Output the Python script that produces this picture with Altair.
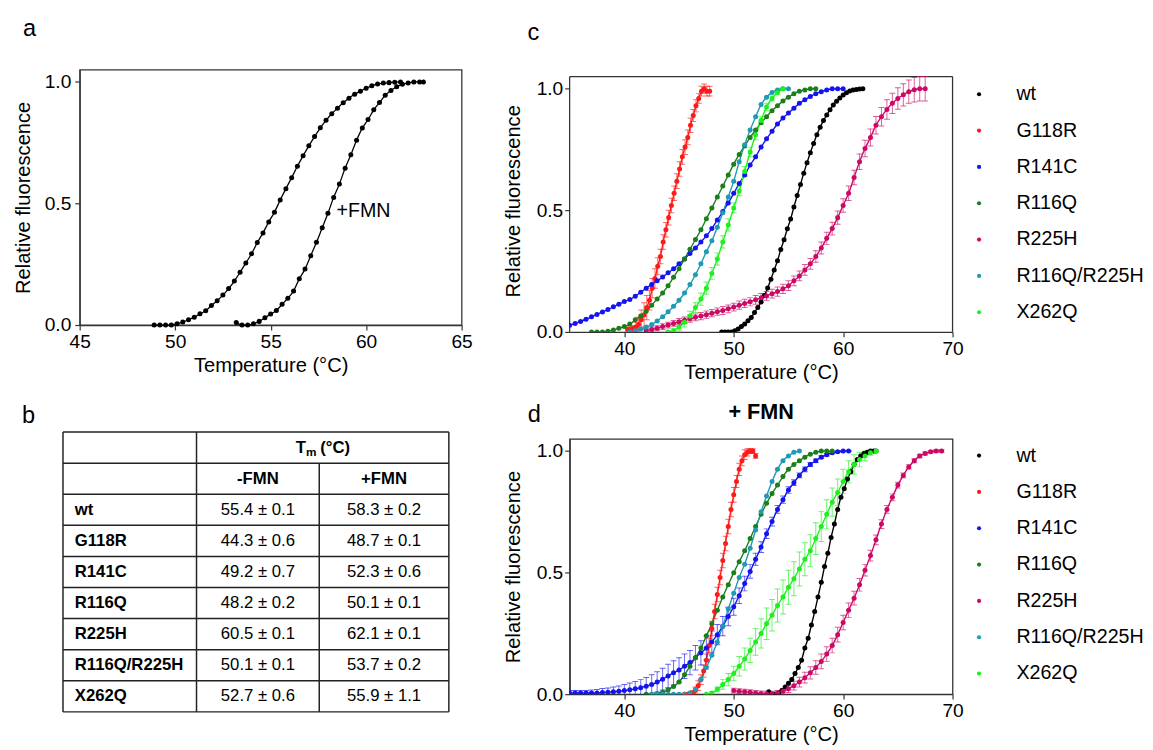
import altair as alt
import pandas as pd

FONT = "Liberation Sans"

# ---------------- panel a : wild type, without / with FMN ----------------
A_MINUS_T = [48.9, 49.2, 49.5, 49.8, 50.1, 50.4, 50.7, 51.0, 51.3, 51.6,
             51.9, 52.2, 52.5, 52.8, 53.1, 53.4, 53.7, 54.0, 54.3, 54.6,
             54.9, 55.2, 55.5, 55.8, 56.1, 56.4, 56.7, 57.0, 57.3, 57.6,
             57.9, 58.2, 58.5, 58.8, 59.1, 59.4, 59.7, 60.0, 60.3, 60.6,
             60.9, 61.2, 61.5, 61.8]
A_MINUS_F = [0.0, 0.0, 0.0, 0.0, 0.005, 0.012, 0.022, 0.032, 0.046, 0.059,
             0.08, 0.10, 0.123, 0.15, 0.181, 0.217, 0.255, 0.293, 0.339, 0.379,
             0.424, 0.464, 0.514, 0.561, 0.606, 0.653, 0.696, 0.737, 0.775, 0.811,
             0.842, 0.869, 0.892, 0.914, 0.933, 0.949, 0.962, 0.974, 0.984, 0.991,
             0.995, 0.997, 0.999, 1.0]
A_PLUS_T = [53.2, 53.5, 53.8, 54.1, 54.4, 54.7, 55.0, 55.3, 55.6, 55.9,
            56.2, 56.5, 56.8, 57.1, 57.4, 57.7, 58.0, 58.3, 58.6, 58.9,
            59.2, 59.5, 59.8, 60.1, 60.4, 60.7, 61.0, 61.3, 61.6, 61.9,
            62.2, 62.5, 62.8, 63.0]
A_PLUS_F = [0.01, 0.0, 0.0, 0.005, 0.015, 0.03, 0.045, 0.06, 0.085, 0.11,
            0.14, 0.19, 0.23, 0.285, 0.34, 0.40, 0.46, 0.525, 0.58, 0.645,
            0.70, 0.76, 0.81, 0.845, 0.885, 0.915, 0.945, 0.965, 0.98, 0.99,
            0.995, 1.0, 1.0, 1.0]
A_LABEL = ["+FMN"]
A_LABEL_T = [58.45]
A_LABEL_F = [0.47]

# ---------------- panel b : table ----------------
B_MUTANTS = ["wt", "G118R", "R141C", "R116Q", "R225H", "R116Q/R225H", "X262Q"]
B_TM_MINUS = ["55.4 ± 0.1", "44.3 ± 0.6", "49.2 ± 0.7", "48.2 ± 0.2",
              "60.5 ± 0.1", "50.1 ± 0.1", "52.7 ± 0.6"]
B_TM_PLUS = ["58.3 ± 0.2", "48.7 ± 0.1", "52.3 ± 0.6", "50.1 ± 0.1",
             "62.1 ± 0.1", "53.7 ± 0.2", "55.9 ± 1.1"]
B_HEAD_COLS = ["-FMN", "+FMN"]

# ---------------- panels c / d : series ----------------
SERIES = ["wt", "G118R", "R141C", "R116Q", "R225H", "R116Q/R225H", "X262Q"]
COLORS = ["#000000", "#ff1a1a", "#1414f0", "#1a7f1a", "#cc0a66", "#1f9ab5", "#1ef01e"]

# panel c (no FMN)
C_G118R_T = [40.3, 40.55, 40.8, 41.05, 41.3, 41.55, 41.8, 42.05, 42.3, 42.55,
             42.8, 43.05, 43.3, 43.55, 43.8, 44.05, 44.3, 44.55, 44.8, 45.05,
             45.3, 45.55, 45.8, 46.05, 46.3, 46.55, 46.8, 47.05, 47.3, 47.55, 47.8]
C_G118R_F = [0.01, 0.01, 0.015, 0.02, 0.03, 0.05, 0.07, 0.10, 0.13, 0.18,
             0.22, 0.27, 0.31, 0.37, 0.42, 0.47, 0.52, 0.57, 0.62, 0.67,
             0.72, 0.76, 0.80, 0.85, 0.89, 0.93, 0.96, 0.99, 1.0, 0.99, 0.99]
C_G118R_E = [0.01, 0.01, 0.01, 0.02, 0.03, 0.04, 0.05, 0.05, 0.04, 0.04,
             0.04, 0.035, 0.03, 0.03, 0.03, 0.03, 0.03, 0.03, 0.03, 0.03,
             0.03, 0.03, 0.03, 0.03, 0.025, 0.025, 0.02, 0.02, 0.02, 0.02, 0.02]

C_R141C_T = [35.0, 35.5, 36.0, 36.5, 37.0, 37.5, 38.0, 38.5, 39.0, 39.5,
             40.0, 40.5, 41.0, 41.5, 42.0, 42.5, 43.0, 43.5, 44.0, 44.5,
             45.0, 45.5, 46.0, 46.5, 47.0, 47.5, 48.0, 48.5, 49.0, 49.5,
             50.0, 50.5, 51.0, 51.5, 52.0, 52.5, 53.0, 53.5, 54.0, 54.5,
             55.0, 55.5, 56.0, 56.5, 57.0, 57.5, 58.0, 58.5, 59.0, 59.5, 60.0]
C_R141C_F = [0.027, 0.035, 0.043, 0.052, 0.062, 0.072, 0.082, 0.092, 0.103, 0.114,
             0.125, 0.133, 0.147, 0.163, 0.18, 0.195, 0.21, 0.226, 0.243, 0.26,
             0.28, 0.30, 0.322, 0.345, 0.37, 0.395, 0.425, 0.46, 0.495, 0.53,
             0.57, 0.61, 0.645, 0.686, 0.72, 0.76, 0.794, 0.825, 0.855, 0.88,
             0.90, 0.92, 0.94, 0.955, 0.968, 0.98, 0.988, 0.995, 1.0, 1.0, 1.0]

C_R116Q_T = [37.0, 37.5, 38.0, 38.5, 39.0, 39.5, 40.0, 40.5, 41.0, 41.5,
             42.0, 42.5, 43.0, 43.5, 44.0, 44.5, 45.0, 45.5, 46.0, 46.5,
             47.0, 47.5, 48.0, 48.5, 49.0, 49.5, 50.0, 50.5, 51.0, 51.5,
             52.0, 52.5, 53.0, 53.5, 54.0, 54.5, 55.0, 55.5, 56.0, 56.5,
             57.0, 57.5]
C_R116Q_F = [0.0, 0.0, 0.0, 0.003, 0.008, 0.015, 0.022, 0.032, 0.05, 0.065,
             0.085, 0.11, 0.135, 0.16, 0.19, 0.225, 0.26, 0.30, 0.34, 0.38,
             0.42, 0.465, 0.51, 0.555, 0.60, 0.645, 0.69, 0.73, 0.765, 0.80,
             0.83, 0.86, 0.885, 0.91, 0.93, 0.95, 0.965, 0.98, 0.99, 0.995,
             1.0, 1.0]

C_R225H_T = [42.0, 42.5, 43.0, 43.5, 44.0, 44.5, 45.0, 45.5, 46.0, 46.5,
             47.0, 47.5, 48.0, 48.5, 49.0, 49.5, 50.0, 50.5, 51.0, 51.5,
             52.0, 52.5, 53.0, 53.5, 54.0, 54.5, 55.0, 55.5, 56.0, 56.5,
             57.0, 57.5, 58.0, 58.5, 59.0, 59.5, 60.0, 60.5, 61.0, 61.5,
             62.0, 62.5, 63.0, 63.5, 64.0, 64.5, 65.0, 65.5, 66.0, 66.5,
             67.0, 67.5]
C_R225H_F = [0.005, 0.01, 0.015, 0.022, 0.028, 0.035, 0.042, 0.048, 0.054, 0.06,
             0.065, 0.071, 0.077, 0.083, 0.088, 0.095, 0.102, 0.11, 0.117, 0.124,
             0.132, 0.14, 0.148, 0.157, 0.166, 0.177, 0.19, 0.21, 0.23, 0.255,
             0.28, 0.31, 0.345, 0.385, 0.425, 0.47, 0.52, 0.57, 0.635, 0.70,
             0.754, 0.80, 0.85, 0.885, 0.915, 0.94, 0.96, 0.975, 0.988, 0.996,
             1.0, 1.0]
C_R225H_E = [0.01, 0.01, 0.01, 0.012, 0.012, 0.012, 0.013, 0.013, 0.014, 0.014,
             0.015, 0.015, 0.015, 0.015, 0.016, 0.016, 0.016, 0.017, 0.017, 0.017,
             0.018, 0.018, 0.018, 0.018, 0.019, 0.019, 0.02, 0.02, 0.02, 0.022,
             0.022, 0.024, 0.025, 0.025, 0.026, 0.027, 0.028, 0.03, 0.03, 0.032,
             0.034, 0.035, 0.036, 0.038, 0.04, 0.042, 0.044, 0.046, 0.048, 0.05,
             0.05, 0.05]

C_DBL_T = [40.5, 41.0, 41.5, 42.0, 42.5, 43.0, 43.5, 44.0, 44.5, 45.0,
           45.5, 46.0, 46.5, 47.0, 47.5, 48.0, 48.5, 49.0, 49.5, 50.0,
           50.5, 51.0, 51.5, 52.0, 52.5, 53.0, 53.5, 54.0, 54.5, 55.0]
C_DBL_F = [0.0, 0.005, 0.012, 0.02, 0.03, 0.045, 0.062, 0.083, 0.105, 0.13,
           0.16, 0.195, 0.235, 0.28, 0.33, 0.375, 0.43, 0.49, 0.555, 0.62,
           0.70, 0.77, 0.83, 0.885, 0.935, 0.965, 0.985, 0.995, 1.0, 1.0]

C_X262Q_T = [44.0, 44.5, 45.0, 45.5, 46.0, 46.5, 47.0, 47.5, 48.0, 48.5,
             49.0, 49.5, 50.0, 50.5, 51.0, 51.5, 52.0, 52.5, 53.0, 53.5,
             54.0, 54.5]
C_X262Q_F = [0.0, 0.005, 0.02, 0.04, 0.065, 0.10, 0.135, 0.18, 0.24, 0.30,
             0.37, 0.44, 0.51, 0.58, 0.66, 0.74, 0.81, 0.87, 0.925, 0.96,
             0.985, 1.0]
C_X262Q_E = [0.005, 0.01, 0.015, 0.02, 0.02, 0.02, 0.025, 0.025, 0.025, 0.025,
             0.025, 0.025, 0.02, 0.02, 0.02, 0.02, 0.02, 0.015, 0.015, 0.01,
             0.01, 0.005]

# panel d (+ FMN)
D_G118R_T = [45.5, 45.75, 46.0, 46.25, 46.5, 46.75, 47.0, 47.25, 47.5, 47.75,
             48.0, 48.25, 48.5, 48.75, 49.0, 49.25, 49.5, 49.75, 50.0, 50.25,
             50.5, 50.75, 51.0, 51.25, 51.5, 51.75, 52.0]
D_G118R_F = [0.0, 0.0, 0.0, 0.005, 0.015, 0.035, 0.06, 0.095, 0.14, 0.20,
             0.27, 0.34, 0.41, 0.48, 0.55, 0.62, 0.69, 0.76, 0.82, 0.875,
             0.925, 0.96, 0.985, 0.995, 1.0, 1.0, 0.98]
D_G118R_E = [0.0, 0.0, 0.005, 0.01, 0.015, 0.02, 0.02, 0.025, 0.025, 0.03,
             0.03, 0.03, 0.03, 0.03, 0.03, 0.03, 0.03, 0.03, 0.03, 0.025,
             0.025, 0.02, 0.02, 0.015, 0.01, 0.01, 0.01]

D_R141C_T = [35.0, 35.5, 36.0, 36.5, 37.0, 37.5, 38.0, 38.5, 39.0, 39.5,
             40.0, 40.5, 41.0, 41.5, 42.0, 42.5, 43.0, 43.5, 44.0, 44.5,
             45.0, 45.5, 46.0, 46.5, 47.0, 47.5, 48.0, 48.5, 49.0, 49.5,
             50.0, 50.5, 51.0, 51.5, 52.0, 52.5, 53.0, 53.5, 54.0, 54.5,
             55.0, 55.5, 56.0, 56.5, 57.0, 57.5, 58.0, 58.5, 59.0, 59.5,
             60.0, 60.5]
D_R141C_F = [0.005, 0.005, 0.005, 0.005, 0.005, 0.005, 0.007, 0.008, 0.01, 0.012,
             0.015, 0.018, 0.022, 0.027, 0.033, 0.04, 0.05, 0.062, 0.075, 0.088,
             0.10, 0.115, 0.13, 0.15, 0.17, 0.19, 0.215, 0.245, 0.28, 0.32,
             0.36, 0.405, 0.455, 0.505, 0.555, 0.605, 0.66, 0.71, 0.76, 0.80,
             0.84, 0.87, 0.90, 0.925, 0.945, 0.96, 0.975, 0.985, 0.993, 0.997,
             1.0, 1.0]
D_R141C_E = [0.01, 0.01, 0.01, 0.01, 0.012, 0.014, 0.016, 0.018, 0.02, 0.022,
             0.025, 0.028, 0.03, 0.033, 0.036, 0.04, 0.042, 0.045, 0.048, 0.05,
             0.05, 0.05, 0.05, 0.05, 0.05, 0.048, 0.045, 0.042, 0.04, 0.038,
             0.035, 0.032, 0.03, 0.028, 0.025, 0.022, 0.02, 0.018, 0.016, 0.015,
             0.013, 0.012, 0.01, 0.01, 0.008, 0.007, 0.006, 0.005, 0.004, 0.003,
             0.002, 0.002]

D_R116Q_T = [42.0, 42.5, 43.0, 43.5, 44.0, 44.5, 45.0, 45.5, 46.0, 46.5,
             47.0, 47.5, 48.0, 48.5, 49.0, 49.5, 50.0, 50.5, 51.0, 51.5,
             52.0, 52.5, 53.0, 53.5, 54.0, 54.5, 55.0, 55.5, 56.0, 56.5,
             57.0, 57.5, 58.0, 58.5, 59.0]
D_R116Q_F = [0.0, 0.0, 0.003, 0.008, 0.018, 0.032, 0.05, 0.08, 0.115, 0.15,
             0.19, 0.24, 0.29, 0.345, 0.40, 0.45, 0.50, 0.545, 0.59, 0.64,
             0.69, 0.74, 0.785, 0.825, 0.86, 0.895, 0.925, 0.945, 0.96, 0.975,
             0.987, 0.995, 1.0, 1.0, 1.0]

D_R225H_T = [50.0, 50.5, 51.0, 51.5, 52.0, 52.5, 53.0, 53.5, 54.0, 54.5,
             55.0, 55.5, 56.0, 56.5, 57.0, 57.5, 58.0, 58.5, 59.0, 59.5,
             60.0, 60.5, 61.0, 61.5, 62.0, 62.5, 63.0, 63.5, 64.0, 64.5,
             65.0, 65.5, 66.0, 66.5, 67.0, 67.5, 68.0, 68.5, 69.0]
D_R225H_F = [0.015, 0.012, 0.01, 0.008, 0.005, 0.003, 0.002, 0.002, 0.005, 0.012,
             0.022, 0.035, 0.05, 0.068, 0.088, 0.11, 0.135, 0.165, 0.20, 0.245,
             0.295, 0.345, 0.395, 0.45, 0.51, 0.57, 0.635, 0.70, 0.76, 0.81,
             0.86, 0.90, 0.935, 0.96, 0.98, 0.99, 0.997, 1.0, 1.0]
D_R225H_E = [0.01, 0.01, 0.01, 0.01, 0.01, 0.01, 0.01, 0.01, 0.01, 0.012,
             0.015, 0.018, 0.02, 0.022, 0.025, 0.028, 0.03, 0.03, 0.03, 0.03,
             0.03, 0.03, 0.028, 0.026, 0.024, 0.022, 0.02, 0.018, 0.016, 0.014,
             0.012, 0.01, 0.009, 0.008, 0.007, 0.006, 0.005, 0.005, 0.005]

D_DBL_T = [42.5, 43.0, 43.5, 44.0, 44.5, 45.0, 45.5, 46.0, 46.5, 47.0,
           47.5, 48.0, 48.5, 49.0, 49.5, 50.0, 50.5, 51.0, 51.5, 52.0,
           52.5, 53.0, 53.5, 54.0, 54.5, 55.0, 55.5, 56.0]
D_DBL_F = [0.0, 0.0, 0.0, 0.0, 0.0, 0.0, 0.0, 0.005, 0.02, 0.06,
           0.11, 0.16, 0.215, 0.28, 0.35, 0.415, 0.48, 0.535, 0.60, 0.675,
           0.75, 0.815, 0.875, 0.925, 0.96, 0.98, 0.995, 1.0]

D_X262Q_T = [47.5, 48.0, 48.5, 49.0, 49.5, 50.0, 50.5, 51.0, 51.5, 52.0,
             52.5, 53.0, 53.5, 54.0, 54.5, 55.0, 55.5, 56.0, 56.5, 57.0,
             57.5, 58.0, 58.5, 59.0, 59.5, 60.0, 60.5, 61.0, 61.5, 62.0,
             62.5, 63.0]
D_X262Q_F = [0.0, 0.005, 0.02, 0.04, 0.06, 0.085, 0.115, 0.145, 0.18, 0.215,
             0.25, 0.29, 0.325, 0.365, 0.40, 0.44, 0.475, 0.515, 0.555, 0.59,
             0.64, 0.69, 0.74, 0.79, 0.83, 0.875, 0.915, 0.945, 0.965, 0.98,
             0.993, 1.0]
D_X262Q_E = [0.0, 0.005, 0.01, 0.02, 0.025, 0.03, 0.04, 0.045, 0.05, 0.055,
             0.06, 0.065, 0.065, 0.068, 0.07, 0.07, 0.07, 0.07, 0.068, 0.066,
             0.065, 0.062, 0.06, 0.058, 0.055, 0.05, 0.045, 0.04, 0.03, 0.02,
             0.01, 0.005]

Y_TOP = 1.05  # top of the plotted frame (data units)


# ---------------- helpers ----------------
def build(entries):
    rows = []
    for name, t, f in entries:
        assert len(t) == len(f), name
        rows += [{"series": name, "t": a, "f": b} for a, b in zip(t, f)]
    return pd.DataFrame(rows)


def build_err(entries):
    rows = []
    for name, t, f, e in entries:
        assert len(t) == len(f) == len(e), name
        rows += [{"series": name, "t": a, "lo": b - c, "hi": b + c}
                 for a, b, c in zip(t, f, e)]
    return pd.DataFrame(rows)


def letter(txt, dx, dy, size=24, weight="normal"):
    return alt.Chart(pd.DataFrame({"label": [txt]})).mark_text(
        font=FONT, fontSize=size, fontWeight=weight, align="center",
        baseline="middle", color="black"
    ).encode(text="label:N", x=alt.value(dx), y=alt.value(dy))


FRAME = alt.ViewBackground(stroke="#333333", strokeWidth=1.3)
NOFRAME = alt.ViewBackground(stroke="transparent")


def xenc(xdom, xvals, field="t:Q"):
    return alt.X(field, scale=alt.Scale(domain=xdom, nice=False, zero=False),
                 axis=alt.Axis(values=xvals, format="d", title="Temperature (°C)",
                               labelPadding=3, titlePadding=5, labelFlush=False))


def yenc(ymax, lab_pad, ttl_pad, field="f:Q", domain=True):
    return alt.Y(field, scale=alt.Scale(domain=[0, ymax], nice=False, zero=False),
                 axis=alt.Axis(values=[0, 0.5, 1.0], format=".1f",
                               title="Relative fluorescence", domain=domain,
                               labelPadding=lab_pad, titlePadding=ttl_pad,
                               labelFlush=False))


# ---------------- panel a ----------------
a_df = build([("-FMN", A_MINUS_T, A_MINUS_F), ("+FMN", A_PLUS_T, A_PLUS_F)])
ax = xenc([45, 65], [45, 50, 55, 60, 65])
ay = yenc(Y_TOP, 4, 11)
a_lines = alt.Chart(a_df).mark_line(color="black", strokeWidth=1.3,
                                    interpolate="monotone").encode(ax, ay, detail="series:N")
a_pts = alt.Chart(a_df).mark_circle(color="black", size=26, opacity=1).encode(ax, ay)
a_lab = alt.Chart(pd.DataFrame({"t": A_LABEL_T, "f": A_LABEL_F, "label": A_LABEL})).mark_text(
    font=FONT, fontSize=20, align="left", baseline="middle", color="black"
).encode(ax, ay, text="label:N")
panel_a = alt.layer(a_lines, a_pts, a_lab, letter("a", -51, -41)).properties(
    width=389, height=260, view=FRAME)

# ---------------- panel b (table) ----------------
TBL_W = 393
TBL_SHIFT = 17          # table starts this many px left of panel a's plot edge
COL_EDGES = [0, 136, 261, 393]
COL_TOP_ROW = [0, 0, 1, 0]
xs = alt.Scale(domain=[TBL_SHIFT, TBL_W], nice=False, zero=False)
ys = alt.Scale(domain=[0, 9], nice=False, zero=False, reverse=True)
h_df = pd.DataFrame({"x0": [0] * 10, "x1": [TBL_W] * 10, "y0": list(range(10))})
v_df = pd.DataFrame({"x0": COL_EDGES, "y0": COL_TOP_ROW, "y1": [9, 9, 9, 9]})
h_rules = alt.Chart(h_df).mark_rule(color="#222222", strokeWidth=1.5).encode(
    x=alt.X("x0:Q", scale=xs, axis=None), x2="x1:Q", y=alt.Y("y0:Q", scale=ys, axis=None))
v_rules = alt.Chart(v_df).mark_rule(color="#222222", strokeWidth=1.5).encode(
    x=alt.X("x0:Q", scale=xs, axis=None), y=alt.Y("y0:Q", scale=ys, axis=None), y2="y1:Q")

row_y = [i + 2.5 for i in range(len(B_MUTANTS))]
lab_df = pd.DataFrame({"label": B_MUTANTS, "x": [12] * 7, "y": row_y})
minus_df = pd.DataFrame({"label": B_TM_MINUS, "x": [198.5] * 7, "y": row_y})
plus_df = pd.DataFrame({"label": B_TM_PLUS, "x": [327] * 7, "y": row_y})
head_df = pd.DataFrame({"label": B_HEAD_COLS, "x": [198.5, 327], "y": [1.5, 1.5]})


def ttext(df, align="center", weight="normal", size=17, dy=0):
    return alt.Chart(df).mark_text(font=FONT, fontSize=size, fontWeight=weight,
                                   align=align, baseline="middle", color="black", dy=dy).encode(
        x=alt.X("x:Q", scale=xs, axis=None), y=alt.Y("y:Q", scale=ys, axis=None),
        text="label:N")


tm_T = ttext(pd.DataFrame({"label": ["T"], "x": [237], "y": [0.5]}), align="left", weight="bold")
tm_m = ttext(pd.DataFrame({"label": ["m"], "x": [247.5], "y": [0.5]}), align="left",
             weight="bold", size=12, dy=5)
tm_c = ttext(pd.DataFrame({"label": ["(°C)"], "x": [262], "y": [0.5]}), align="left", weight="bold")

panel_b = alt.layer(
    h_rules, v_rules,
    ttext(lab_df, align="left", weight="bold"),
    ttext(minus_df), ttext(plus_df),
    ttext(head_df, weight="bold"),
    tm_T, tm_m, tm_c,
    letter("b", -52, -16),
).properties(width=TBL_W - TBL_SHIFT, height=285, view=NOFRAME)


# ---------------- panels c / d ----------------
def curve_panel(series_entries, err_entries, tag, legend_y, extra=None, head_px=0):
    """head_px: extra empty band above the frame (plot area grows upward)."""
    df = build(series_entries)
    edf = build_err(err_entries)
    px_per_unit = 260 / Y_TOP
    ymax = Y_TOP + head_px / px_per_unit
    framed = head_px == 0
    x = xenc([35, 70], [40, 50, 60, 70])
    y = yenc(ymax, 2, 13, domain=framed)
    ylo = yenc(ymax, 2, 13, field="lo:Q", domain=framed)
    yhi = yenc(ymax, 2, 13, field="hi:Q", domain=framed)
    cscale = alt.Scale(domain=SERIES, range=COLORS)
    # same colours, listed in another order so these scales stay separate from the legend one
    sscale = alt.Scale(domain=SERIES[::-1], range=COLORS[::-1])
    fscale = alt.Scale(domain=SERIES[1:] + SERIES[:1], range=COLORS[1:] + COLORS[:1])
    stroke = alt.Stroke("series:N", scale=sscale, legend=None)
    fill = alt.Fill("series:N", scale=fscale, legend=None)
    lines = alt.Chart(df).mark_line(strokeWidth=1.4, interpolate="monotone", clip=True).encode(
        x, y, stroke)
    err = alt.Chart(edf).mark_rule(strokeWidth=1, opacity=0.65, clip=True).encode(
        x, ylo, alt.Y2("hi:Q"), stroke)
    cap_lo = alt.Chart(edf).mark_tick(orient="horizontal", size=6, thickness=1,
                                      opacity=0.65, clip=True).encode(x, ylo, fill)
    cap_hi = alt.Chart(edf).mark_tick(orient="horizontal", size=6, thickness=1,
                                      opacity=0.65, clip=True).encode(x, yhi, fill)
    pts = alt.Chart(df).mark_circle(size=26, opacity=1, clip=True).encode(
        x, y,
        color=alt.Color("series:N", scale=cscale,
                        legend=alt.Legend(title=None, orient="none", legendX=407,
                                          legendY=legend_y, symbolType="circle",
                                          symbolSize=18, symbolStrokeWidth=0,
                                          labelFont=FONT, labelFontSize=20, labelColor="black",
                                          rowPadding=17, labelOffset=28, padding=0,
                                          labelLimit=200)))
    layers = [lines, err, cap_lo, cap_hi, pts, tag]
    view = FRAME
    if not framed:
        fr_df = pd.DataFrame({"x0": [35, 35, 70], "x1": [35, 70, 70],
                              "y0": [0, Y_TOP, 0], "y1": [Y_TOP, Y_TOP, Y_TOP]})
        frame = alt.Chart(fr_df).mark_rule(color="#333333", strokeWidth=1.3).encode(
            xenc([35, 70], [40, 50, 60, 70], "x0:Q"), alt.X2("x1:Q"),
            yenc(ymax, 2, 13, field="y0:Q", domain=False), alt.Y2("y1:Q"))
        layers.insert(0, frame)
        view = NOFRAME
    if extra is not None:
        layers.append(extra)
    return alt.layer(*layers).properties(width=390, height=260 + head_px, view=view)


panel_c = curve_panel(
    [("wt", A_MINUS_T, A_MINUS_F), ("G118R", C_G118R_T, C_G118R_F),
     ("R141C", C_R141C_T, C_R141C_F), ("R116Q", C_R116Q_T, C_R116Q_F),
     ("R225H", C_R225H_T, C_R225H_F), ("R116Q/R225H", C_DBL_T, C_DBL_F),
     ("X262Q", C_X262Q_T, C_X262Q_F)],
    [("G118R", C_G118R_T, C_G118R_F, C_G118R_E),
     ("R225H", C_R225H_T, C_R225H_F, C_R225H_E),
     ("X262Q", C_X262Q_T, C_X262Q_F, C_X262Q_E)],
    letter("c", -37, -37), legend_y=15, head_px=7)

panel_d = curve_panel(
    [("wt", A_PLUS_T, A_PLUS_F), ("G118R", D_G118R_T, D_G118R_F),
     ("R141C", D_R141C_T, D_R141C_F), ("R116Q", D_R116Q_T, D_R116Q_F),
     ("R225H", D_R225H_T, D_R225H_F), ("R116Q/R225H", D_DBL_T, D_DBL_F),
     ("X262Q", D_X262Q_T, D_X262Q_F)],
    [("G118R", D_G118R_T, D_G118R_F, D_G118R_E),
     ("R141C", D_R141C_T, D_R141C_F, D_R141C_E),
     ("R225H", D_R225H_T, D_R225H_F, D_R225H_E),
     ("X262Q", D_X262Q_T, D_X262Q_F, D_X262Q_E)],
    letter("d", -36, -24), legend_y=7,
    extra=letter("+ FMN", 195, -27, size=22, weight="bold"))

left = alt.vconcat(panel_a, panel_b, spacing=27)
right = alt.vconcat(panel_c, panel_d, spacing=17).resolve_scale(
    color="independent", stroke="independent", fill="independent").resolve_legend(
    color="independent")

chart = alt.hconcat(left, right, spacing=30).resolve_scale(
    color="independent", stroke="independent", fill="independent").resolve_legend(
    color="independent").properties(
    padding={"left": 5, "top": 2, "right": 0, "bottom": 0}
).configure(font=FONT).configure_view(stroke="transparent").configure_axis(
    labelFont=FONT, titleFont=FONT, labelFontSize=19.5, titleFontSize=20.5,
    titleFontWeight="normal", labelColor="black", titleColor="black",
    domainColor="#333333", tickColor="#333333", domainWidth=1.3, tickWidth=1.2,
    tickSize=5, grid=False)

chart.save("out.html", embed_options={"renderer": "svg", "actions": False})
